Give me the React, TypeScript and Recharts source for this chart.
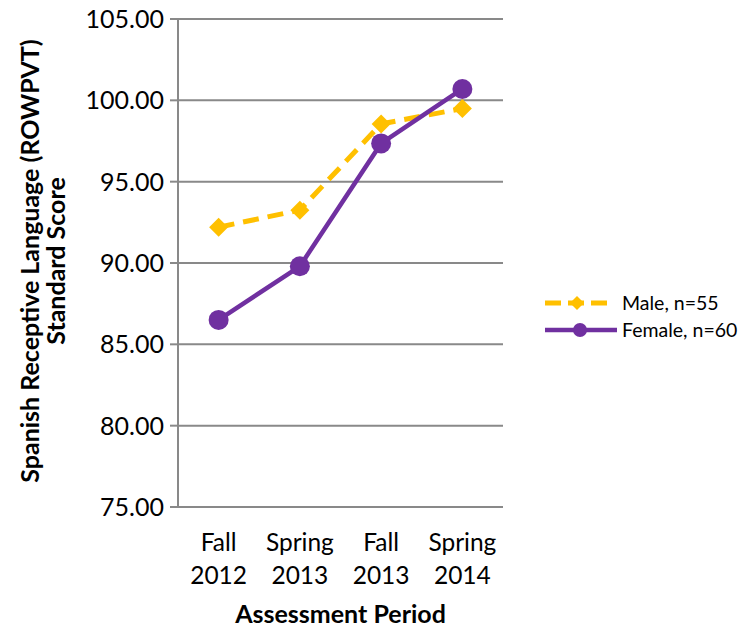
import React from 'react';
import { LineChart, Line, XAxis, YAxis, CartesianGrid, Legend } from 'recharts';

const categories = ['Fall 2012', 'Spring 2013', 'Fall 2013', 'Spring 2014'];
const tickLine1 = ['Fall', 'Spring', 'Fall', 'Spring'];
const tickLine2 = ['2012', '2013', '2013', '2014'];
const maleValues = [92.2, 93.25, 98.55, 99.5];
const femaleValues = [86.5, 89.8, 97.35, 100.7];
const yTicks = [75, 80, 85, 90, 95, 100, 105];
const seriesNames = ['Male, n=55', 'Female, n=60'];

const data = categories.map((c, i) => ({
  category: c,
  pos: i + 0.5,
  male: maleValues[i],
  female: femaleValues[i],
}));

const boundaryTicks = categories.map((_, i) => i).concat([categories.length]);
const labelTicks = categories.map((_, i) => i + 0.5);

const GOLD = '#FFC000';
const PURPLE = '#7030A0';
const GRAY = '#898989';
const FONT = 'Lato, "Open Sans", sans-serif';

const Diamond = (props: any) => {
  const { cx, cy } = props;
  if (cx == null || cy == null) return null;
  const r = 9.5;
  return (
    <polygon
      points={`${cx},${cy - r} ${cx + r},${cy} ${cx},${cy + r} ${cx - r},${cy}`}
      fill={GOLD}
    />
  );
};

const Circle = (props: any) => {
  const { cx, cy } = props;
  if (cx == null || cy == null) return null;
  return <circle cx={cx} cy={cy} r={10} fill={PURPLE} />;
};

const EmptyTick = () => <g />;

const XLabelTick = (props: any) => {
  const { x, payload } = props;
  const i = Math.floor(payload.value);
  return (
    <g>
      <text x={x} y={551} textAnchor="middle" fontFamily={FONT} fontSize={24.5} fill="#000">
        {tickLine1[i]}
      </text>
      <text x={x} y={584} textAnchor="middle" fontFamily={FONT} fontSize={24.5} fill="#000">
        {tickLine2[i]}
      </text>
    </g>
  );
};

const renderLegend = () => (
  <svg width={200} height={80} style={{ display: 'block' }}>
    <line x1={5} y1={18} x2={68} y2={18} stroke={GOLD} strokeWidth={5} strokeDasharray="16 7" />
    <polygon points="37,11 44,18 37,25 30,18" fill={GOLD} />
    <text x={82} y={25} fontFamily={FONT} fontSize={19.5} fill="#000">
      {seriesNames[0]}
    </text>
    <line x1={5} y1={45} x2={77} y2={45} stroke={PURPLE} strokeWidth={4.5} />
    <circle cx={40} cy={45} r={7} fill={PURPLE} />
    <text x={82} y={52} fontFamily={FONT} fontSize={19.5} fill="#000">
      {seriesNames[1]}
    </text>
  </svg>
);

const YTitle = () => (
  <text
    transform="translate(39, 261) rotate(-90)"
    textAnchor="middle"
    fontFamily={FONT}
    fontWeight="bold"
    fontSize={25}
    fill="#000"
  >
    <tspan x={0} y={0}>Spanish Receptive Language (ROWPVT)</tspan>
    <tspan x={0} y={26}>Standard Score</tspan>
  </text>
);

const XTitle = () => (
  <text x={340.5} y={623} textAnchor="middle" fontFamily={FONT} fontWeight="bold" fontSize={25} fill="#000">
    Assessment Period
  </text>
);

export default function App() {
  return (
    <div style={{ position: 'absolute', left: 0, top: 0, width: 740, height: 628, background: '#fff' }}>
      <LineChart
        width={740}
        height={628}
        data={data}
        margin={{ top: 19, right: 237, bottom: 61, left: 0 }}
      >
        <CartesianGrid horizontal vertical={false} stroke={GRAY} strokeWidth={2} />
        <XAxis
          xAxisId={0}
          dataKey="pos"
          type="number"
          domain={[0, categories.length]}
          ticks={boundaryTicks}
          interval={0}
          height={0}
          tickSize={8}
          tick={EmptyTick}
          axisLine={{ stroke: GRAY, strokeWidth: 2 }}
          tickLine={{ stroke: GRAY, strokeWidth: 2 }}
        />
        <XAxis
          xAxisId="labels"
          dataKey="pos"
          type="number"
          domain={[0, categories.length]}
          ticks={labelTicks}
          interval={0}
          height={60}
          axisLine={false}
          tickLine={false}
          tick={XLabelTick}
          label={{ content: XTitle }}
        />
        <YAxis
          width={178}
          domain={[75, 105]}
          ticks={yTicks}
          interval={0}
          tickFormatter={(v: number) => v.toFixed(2)}
          tickSize={8}
          tickMargin={6}
          tick={{ fontFamily: FONT, fontSize: 25, fill: '#000' }}
          axisLine={{ stroke: GRAY, strokeWidth: 2 }}
          tickLine={{ stroke: GRAY, strokeWidth: 2 }}
          label={{ content: YTitle }}
        />
        <Legend
          layout="vertical"
          align="center"
          verticalAlign="middle"
          content={renderLegend}
          wrapperStyle={{ left: 540, top: 285, width: 200, height: 80 }}
        />
        <Line
          xAxisId={0}
          dataKey="male"
          name={seriesNames[0]}
          stroke={GOLD}
          strokeWidth={5}
          strokeDasharray="16 9"
          dot={<Diamond />}
          activeDot={false}
          isAnimationActive={false}
        />
        <Line
          xAxisId={0}
          dataKey="female"
          name={seriesNames[1]}
          stroke={PURPLE}
          strokeWidth={4.5}
          dot={<Circle />}
          activeDot={false}
          isAnimationActive={false}
        />
      </LineChart>
    </div>
  );
}
